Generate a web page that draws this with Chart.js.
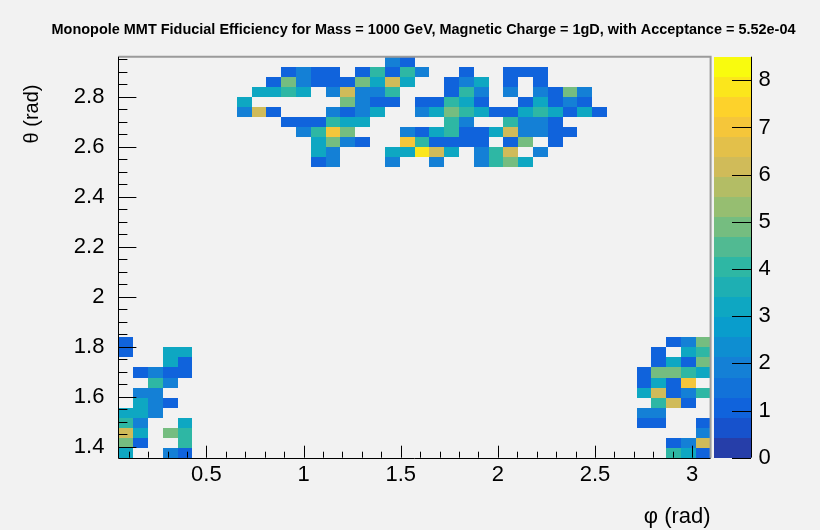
<!DOCTYPE html>
<html>
<head>
<meta charset="utf-8">
<script src="https://cdn.jsdelivr.net/npm/chart.js@4.4.1/dist/chart.umd.min.js"></script>
<style>
  html, body { margin: 0; padding: 0; background: #f2f2f2; }
  #wrap { width: 820px; height: 530px; }
</style>
</head>
<body>
<div id="wrap"><canvas id="c" width="820" height="530"></canvas></div>
<script>
// Monopole fiducial efficiency map, phi vs theta, 40 x 40 bins (ROOT TH2 "COLZ" look).
const chartTitle = 'Monopole MMT Fiducial Efficiency for Mass = 1000 GeV, Magnetic Charge = 1gD, with Acceptance = 5.52e-04';
const phiRange = [0.047, 3.095];
const thetaRange = [1.357, 2.961];
const nPhi = 40;
const nTheta = 40;
const phiTicks = [0.5, 1, 1.5, 2, 2.5, 3];
const thetaTicks = [1.4, 1.6, 1.8, 2, 2.2, 2.4, 2.6, 2.8];
const zTicks = [0, 1, 2, 3, 4, 5, 6, 7, 8];
const zMax = 8.5;

// One string per theta bin, highest theta first; one char per phi bin ('.' = empty).
// Spaces only split the 40 phi bins into groups of 10 for reading.
const effRows = [
  '.......... ........21 .......... ..........',
  '.......... .1211.1414 2..1..111. ..........',
  '.......... 1521115363 ..123.1.1. ..........',
  '.........3 343.26224. ..142.2.21 52........',
  '........3. .....5211. 11431..131 21........',
  '........26 1...2123.. 2354311343 131.......',
  '.......... .111433... ..42..4221 ..........',
  '.......... ..2475...2 1341136221 1.........',
  '.......... ...3521..7 41111.15.1 ..........',
  '.......... ...32...33 863.246.2. ..........',
  '.......... ...12...2. .2..2453.. ..........',
  '.......... .......... .......... ..........',
  '.......... .......... .......... ..........',
  '.......... .......... .......... ..........',
  '.......... .......... .......... ..........',
  '.......... .......... .......... ..........',
  '.......... .......... .......... ..........',
  '.......... .......... .......... ..........',
  '.......... .......... .......... ..........',
  '.......... .......... .......... ..........',
  '.......... .......... .......... ..........',
  '.......... .......... .......... ..........',
  '.......... .......... .......... ..........',
  '.......... .......... .......... ..........',
  '.......... .......... .......... ..........',
  '.......... .......... .......... ..........',
  '.......... .......... .......... ..........',
  '.......... .......... .......... ..........',
  '1......... .......... .......... .......125',
  '1..33..... .......... .......... ......1.34',
  '...31..... .......... .......... ......1315',
  '.1211..... .......... .......... .....15543',
  '..42...... .......... .......... .....1317.',
  '.22....... .......... .......... .....36124',
  '.321...... .......... .......... ......461.',
  '332....... .......... .......... .....22...',
  '42..3..... .......... .......... .....11..1',
  '63.54..... .......... .......... .........2',
  '51..4..... .......... .......... .......126',
  '3..21..... .......... .......... .......431',
];

// ROOT kBird palette stops
const bird = {
  stops: [0, 0.125, 0.25, 0.375, 0.5, 0.625, 0.75, 0.875, 1],
  r: [0.2082, 0.0592, 0.0780, 0.0232, 0.1802, 0.5301, 0.8186, 0.9956, 0.9764],
  g: [0.1664, 0.3599, 0.5041, 0.6419, 0.7178, 0.7492, 0.7328, 0.7862, 0.9832],
  b: [0.5293, 0.8684, 0.8385, 0.7914, 0.6425, 0.4662, 0.3499, 0.1968, 0.0539],
};
const nContours = 20;

function birdColor(t) {
  let i = 0;
  while (i < bird.stops.length - 2 && t > bird.stops[i + 1]) i++;
  const f = (t - bird.stops[i]) / (bird.stops[i + 1] - bird.stops[i]);
  const c = (a) => Math.round(255 * (a[i] + f * (a[i + 1] - a[i])));
  return `rgb(${c(bird.r)},${c(bird.g)},${c(bird.b)})`;
}

// colour of contour band n, like THistPainter: (n + 0.99) / ndivz along the palette
const bandColor = (n) => birdColor((n + 0.99) / nContours);
const zColor = (v) => bandColor(Math.min(nContours - 1, Math.floor(v / zMax * nContours)));

// build the cell list from the rows
const phiW = (phiRange[1] - phiRange[0]) / nPhi;
const thetaH = (thetaRange[1] - thetaRange[0]) / nTheta;
const cells = [];
effRows.forEach((row, j) => {
  const bins = row.replace(/ /g, '');
  for (let k = 0; k < nPhi; k++) {
    if (bins[k] === '.') continue;
    const th1 = thetaRange[1] - j * thetaH;
    cells.push({
      x: phiRange[0] + (k + 0.5) * phiW,
      y: th1 - 0.5 * thetaH,
      x0: phiRange[0] + k * phiW,
      x1: phiRange[0] + (k + 1) * phiW,
      y0: th1 - thetaH,
      y1: th1,
      v: Number(bins[k]),
    });
  }
});

const FONT = '"Liberation Sans", Arial, Helvetica, sans-serif';
Chart.defaults.font.family = FONT;
Chart.defaults.color = '#000';

const bgPlugin = {
  id: 'bg',
  beforeDraw(chart) {
    const { ctx, width, height } = chart;
    ctx.save();
    ctx.fillStyle = '#f2f2f2';
    ctx.fillRect(0, 0, width, height);
    ctx.restore();
  },
};

const colzPlugin = {
  id: 'colz',
  beforeDatasetsDraw(chart) {
    const { ctx, scales: { x, y } } = chart;
    ctx.save();
    chart.data.datasets[0].data.forEach((c) => {
      const px0 = Math.round(x.getPixelForValue(c.x0));
      const px1 = Math.round(x.getPixelForValue(c.x1));
      const py1 = Math.round(y.getPixelForValue(c.y1));
      const py0 = Math.round(y.getPixelForValue(c.y0));
      ctx.fillStyle = zColor(c.v);
      ctx.fillRect(px0, py1, px1 - px0, py0 - py1);
    });
    ctx.restore();
  },
  afterDatasetsDraw(chart) {
    const { ctx, chartArea: a, scales: { x, y, z } } = chart;
    ctx.save();

    // frame: grey top/right, black axes left/bottom
    ctx.strokeStyle = '#9b9b9b';
    ctx.lineWidth = 2;
    ctx.beginPath();
    ctx.moveTo(a.left, a.top);
    ctx.lineTo(a.right, a.top);
    ctx.lineTo(a.right, a.bottom);
    ctx.stroke();

    ctx.strokeStyle = '#000';
    ctx.lineWidth = 1;
    ctx.beginPath();
    ctx.moveTo(Math.round(a.left) + 0.5, a.top);
    ctx.lineTo(Math.round(a.left) + 0.5, Math.round(a.bottom) + 0.5);
    ctx.lineTo(a.right, Math.round(a.bottom) + 0.5);

    // x ticks every 0.1, major every 0.5, pointing into the frame
    for (let i = 1; i <= 30; i++) {
      const v = i / 10;
      if (v < x.min || v > x.max) continue;
      const px = Math.round(x.getPixelForValue(v)) + 0.5;
      const len = i % 5 === 0 ? 12 : 6;
      ctx.moveTo(px, a.bottom);
      ctx.lineTo(px, a.bottom - len);
    }
    // theta ticks every 0.05, major every 0.2
    for (let i = 27; i <= 60; i++) {
      const v = i / 20;
      if (v < y.min || v > y.max) continue;
      const py = Math.round(y.getPixelForValue(v)) + 0.5;
      const len = i % 4 === 0 ? 18 : 9;
      ctx.moveTo(a.left, py);
      ctx.lineTo(a.left + len, py);
    }
    ctx.stroke();

    // palette
    const pl = Math.round(z.left + 3.7);
    const pr = Math.round(z.left + 40.4);
    for (let n = 0; n < nContours; n++) {
      const yb = Math.round(z.getPixelForValue(n * zMax / nContours));
      const yt = Math.round(z.getPixelForValue((n + 1) * zMax / nContours));
      ctx.fillStyle = bandColor(n);
      ctx.fillRect(pl, yt, pr - pl, yb - yt);
    }
    ctx.strokeStyle = '#000';
    ctx.lineWidth = 1;
    ctx.beginPath();
    ctx.moveTo(pr + 0.5, z.top);
    ctx.lineTo(pr + 0.5, z.bottom);
    zTicks.forEach((v) => {
      const py = Math.round(z.getPixelForValue(v)) + 0.5;
      ctx.moveTo(pr, py);
      ctx.lineTo(pr - 19, py);
    });
    ctx.stroke();

    // axis titles
    ctx.fillStyle = '#000';
    ctx.textBaseline = 'middle';
    ctx.font = `22px ${FONT}`;
    ctx.textAlign = 'right';
    ctx.fillText('\u03c6 (rad)', a.right, 517);
    ctx.save();
    ctx.font = `20px ${FONT}`;
    ctx.translate(32, 114);
    ctx.rotate(-Math.PI / 2);
    ctx.textAlign = 'center';
    ctx.fillText('\u03b8 (rad)', 0, 0);
    ctx.restore();

    // condensed bold title, stretched to the reference width
    ctx.font = `bold 15px ${FONT}`;
    const w = ctx.measureText(chartTitle).width;
    ctx.save();
    ctx.translate(423.5, 30);
    ctx.scale(744 / w, 1);
    ctx.textAlign = 'center';
    ctx.fillText(chartTitle, 0, 0);
    ctx.restore();

    ctx.restore();
  },
};

const tickFont = { family: FONT, size: 22 };

new Chart(document.getElementById('c'), {
  type: 'scatter',
  data: {
    datasets: [{ data: cells, pointRadius: 0, pointHoverRadius: 0 }],
  },
  options: {
    responsive: false,
    animation: false,
    events: [],
    layout: { padding: { top: 56.7, right: 0, bottom: 0, left: 0 } },
    plugins: { legend: { display: false }, tooltip: { enabled: false } },
    scales: {
      x: {
        type: 'linear',
        position: 'bottom',
        min: phiRange[0],
        max: phiRange[1],
        afterBuildTicks: (s) => { s.ticks = phiTicks.map((v) => ({ value: v })); },
        afterFit: (s) => { s.height = 72.3; },
        ticks: { font: tickFont, padding: -4, autoSkip: false, maxRotation: 0, callback: (v) => String(v) },
        grid: { display: false },
        border: { display: false },
      },
      y: {
        type: 'linear',
        position: 'left',
        min: thetaRange[0],
        max: thetaRange[1],
        afterBuildTicks: (s) => { s.ticks = thetaTicks.map((v) => ({ value: v })); },
        afterFit: (s) => { s.width = 118.4; },
        ticks: { font: tickFont, padding: 6, autoSkip: false, callback: (v) => String(v) },
        grid: { display: false },
        border: { display: false },
      },
      z: {
        type: 'linear',
        axis: 'y',
        position: 'right',
        min: 0,
        max: zMax,
        afterBuildTicks: (s) => { s.ticks = zTicks.map((v) => ({ value: v })); },
        afterFit: (s) => { s.width = 109.4; },
        ticks: { font: tickFont, padding: 40, autoSkip: false, callback: (v) => String(v) },
        grid: { display: false },
        border: { display: false },
      },
    },
  },
  plugins: [bgPlugin, colzPlugin],
});
</script>
</body>
</html>
